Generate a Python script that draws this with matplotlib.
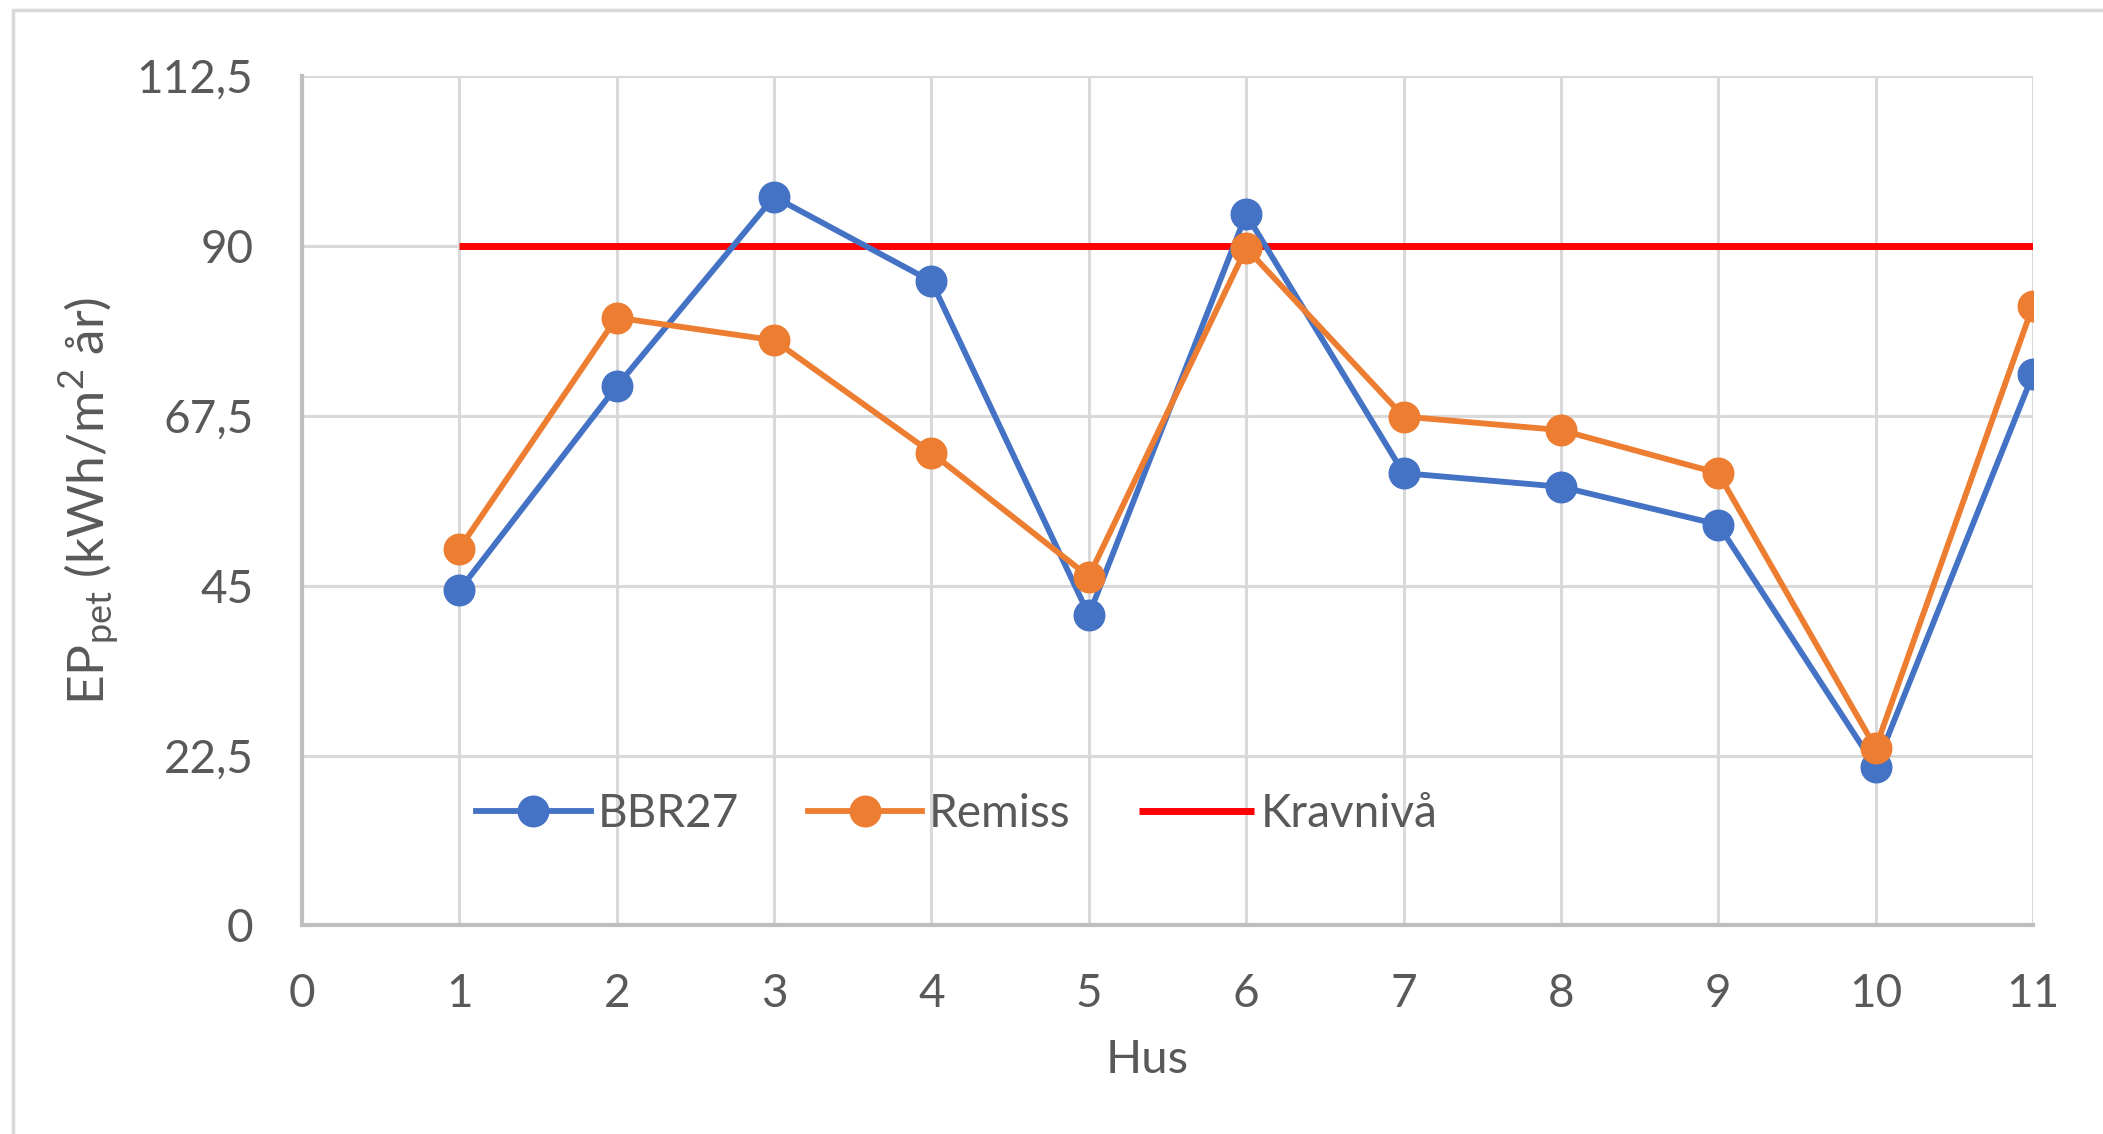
import matplotlib
matplotlib.use("Agg")
import matplotlib.pyplot as plt
from matplotlib.patches import Rectangle
from matplotlib.ticker import FuncFormatter

# Data
hus = [1, 2, 3, 4, 5, 6, 7, 8, 9, 10, 11]
bbr27 = [44.4, 71.4, 96.5, 85.3, 41.1, 94.2, 59.9, 58.1, 53.1, 21.0, 73.0]
remiss = [49.9, 80.5, 77.5, 62.6, 46.2, 89.7, 67.4, 65.6, 59.9, 23.5, 82.1]
kravniva = [90] * len(hus)
x_ticks = list(range(0, 12))
y_ticks = [0, 22.5, 45, 67.5, 90, 112.5]

plt.rcParams['font.family'] = ['Lato', 'DejaVu Sans']
text_color = '#595959'
grid_color = '#d9d9d9'

fig = plt.figure(figsize=(21.03, 11.34), dpi=100)
ax = fig.add_axes([0.1436, 0.1839, 0.8231, 0.7491])

# outer chart frame
fig.patches.append(Rectangle((13 / 2103, -0.05), 1.2, 1 - 10 / 1134 + 0.05,
                             transform=fig.transFigure, fill=False,
                             edgecolor='#d9d9d9', linewidth=2.5, zorder=0))

ax.plot(hus, bbr27, color='#4472C4', lw=4.2, marker='o', markersize=22,
        label='BBR27', zorder=3)
ax.plot(hus, remiss, color='#ED7D31', lw=4.2, marker='o', markersize=22,
        label='Remiss', zorder=4)
ax.plot(hus, kravniva, color='#FF0000', lw=5, label='Kravnivå', zorder=2,
        solid_capstyle='butt')

ax.set_xlim(0, 11)
ax.set_ylim(0, 112.5)
ax.set_xticks(x_ticks)
ax.set_yticks(y_ticks)
ax.yaxis.set_major_formatter(FuncFormatter(
    lambda v, p: (f"{v:g}").replace('.', ',')))

ax.grid(True, color=grid_color, lw=2.2, zorder=0)
ax.set_axisbelow(True)
for side in ['top', 'right']:
    ax.spines[side].set_visible(False)
for side in ['left', 'bottom']:
    ax.spines[side].set_color('#bfbfbf')
    ax.spines[side].set_linewidth(3)
ax.tick_params(length=0, labelsize=33, colors=text_color, pad=34)
ax.tick_params(axis='y', pad=35)

ax.set_xlabel('Hus', fontsize=34, color=text_color)
ax.xaxis.set_label_coords(0.488, -0.134)
ax.set_ylabel(r'EP$_\mathregular{pet}$ (kWh/m$^\mathregular{2}$ år)',
              fontsize=37, color=text_color)
ax.yaxis.set_label_coords(-0.104, 0.5)

leg = ax.legend(loc='center left', bbox_to_anchor=(0.1005, 0.131), ncol=3,
                frameon=False, fontsize=33, handlelength=2.5,
                handletextpad=0.15, columnspacing=1.5, borderpad=0,
                borderaxespad=0)
for t in leg.get_texts():
    t.set_color(text_color)

fig.savefig('out.png', dpi=100)
